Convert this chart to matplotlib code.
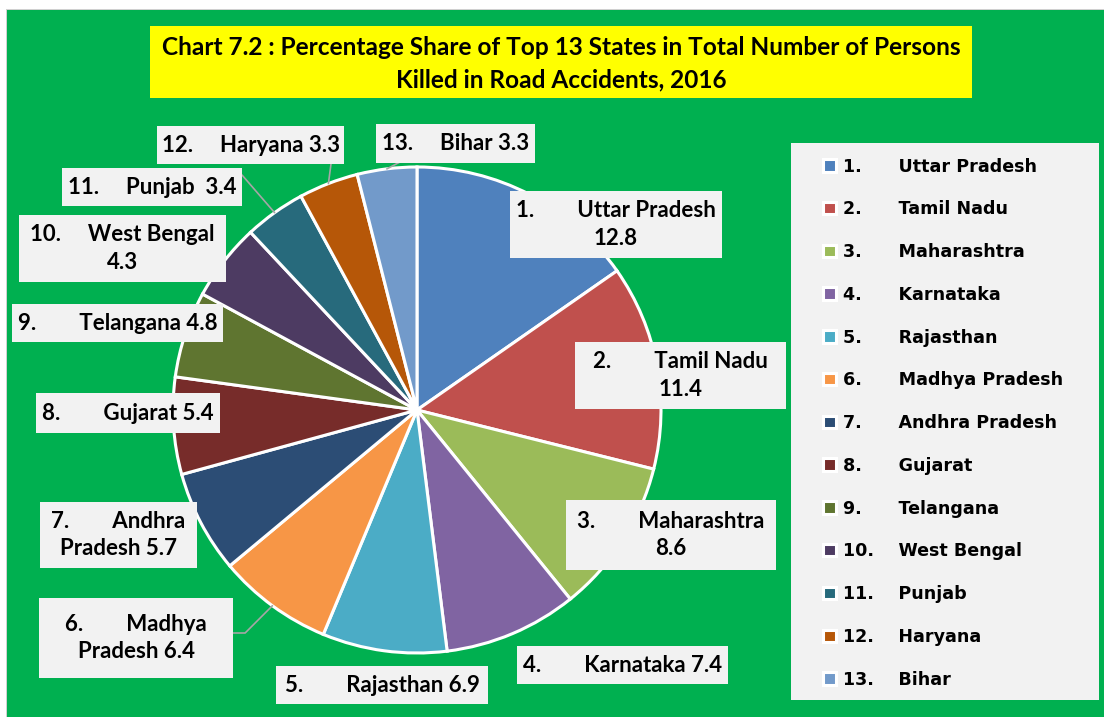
import matplotlib.pyplot as plt
import numpy as np
from matplotlib.patches import Rectangle

states = ["Uttar Pradesh", "Tamil Nadu", "Maharashtra", "Karnataka", "Rajasthan",
          "Madhya Pradesh", "Andhra Pradesh", "Gujarat", "Telangana", "West Bengal",
          "Punjab", "Haryana", "Bihar"]
share = [12.8, 11.4, 8.6, 7.4, 6.9, 6.4, 5.7, 5.4, 4.8, 4.3, 3.4, 3.3, 3.3]
colors = ["#4F81BD", "#C0504D", "#9BBB59", "#8064A2", "#4BACC6", "#F79646", "#2C4D75",
          "#772C2A", "#5F7530", "#4D3B62", "#276A7C", "#B65708", "#729ACA"]

title = ("Chart 7.2 : Percentage Share of Top 13 States in Total Number of Persons\n"
         "Killed in Road Accidents, 2016")

# label layout (pixels): box x0, y0, x1, y1 and how name/value are split
label_boxes = [(510, 191, 722, 258), (575, 342, 786, 409), (566, 500, 776, 570),
               (517, 646, 728, 684), (276, 666, 488, 704), (39, 598, 233, 678),
               (40, 502, 197, 568), (36, 393, 220, 433), (12, 304, 223, 342),
               (19, 215, 226, 282), (62, 168, 242, 206), (157, 126, 344, 164),
               (376, 124, 535, 163)]
label_split = ["value", "value", "value", "", "", "name", "name", "", "", "value", "", "", ""]
# leader lines: start point on the label box (pixels), only where Excel drew one
leaders = {5: (233, 633), 10: (242, 175), 11: (331, 164), 12: (400, 162)}

W, H = 1104, 717
cx, cy, rx, ry = 417, 410, 244, 243

fig = plt.figure(figsize=(W / 100, H / 100), dpi=100)
fig.patch.set_facecolor("white")
fig.patches.append(Rectangle((6 / W, 0), 1, (H - 9) / H, transform=fig.transFigure,
                             facecolor="#D0D0D0", edgecolor="none", zorder=-3))
fig.patches.append(Rectangle((7 / W, 0), 1, (H - 10) / H, transform=fig.transFigure,
                             facecolor="#00B050", edgecolor="none", zorder=-2))

# pie axes spans the whole figure, unit radius mapped to rx/ry pixels
ax = fig.add_axes([0, 0, 1, 1])
wedges, _ = ax.pie(share, colors=colors, startangle=90, counterclock=False,
                   wedgeprops=dict(edgecolor="white", linewidth=2.2))
ax.set_aspect("auto")
ax.set_xlim(-cx / rx, (W - cx) / rx)
ax.set_ylim(-(H - cy) / ry, cy / ry)
ax.axis("off")

# overlay in pixel coordinates for labels
ov = fig.add_axes([0, 0, 1, 1], facecolor="none")
ov.set_xlim(0, W)
ov.set_ylim(H, 0)
ov.axis("off")

lab_font = ["Lato", "DejaVu Sans"]

ov.add_patch(Rectangle((150, 26), 822, 72, facecolor="#FFFF00", edgecolor="none"))
ov.text(561, 63.5, title, ha="center", va="center", fontsize=17.6, fontweight="bold",
        family=lab_font, linespacing=1.5)

for i, (name, val) in enumerate(zip(states, share)):
    num = f"{i + 1}."
    gap = " " * 8 if i < 9 else " " * 5
    if label_split[i] == "value":
        txt = f"{num}{gap}{name}\n{val}"
    elif label_split[i] == "name":
        first, rest = name.split(" ", 1)
        txt = f"{num}{gap}{first}\n{rest} {val}"
    else:
        sep = "  " if name == "Punjab" else " "
        txt = f"{num}{gap}{name}{sep}{val}"
    x0, y0, x1, y1 = label_boxes[i]
    ov.add_patch(Rectangle((x0, y0), x1 - x0, y1 - y0, facecolor="#F2F2F2",
                           edgecolor="none", zorder=3))
    ov.text((x0 + x1) / 2, (y0 + y1) / 2, txt, ha="center", va="center",
            multialignment="center", fontsize=16, fontweight="bold",
            family=lab_font, linespacing=1.4, zorder=4)
    if i in leaders:
        w = wedges[i]
        mid = np.deg2rad((w.theta1 + w.theta2) / 2)
        conn = "angle,angleA=0,angleB=45,rad=0" if i == 5 else "arc3"
        ov.annotate("", xy=(np.cos(mid), np.sin(mid)), xycoords=ax.transData,
                    xytext=leaders[i], textcoords="data",
                    arrowprops=dict(arrowstyle="-", color="#A6A6A6", lw=1.2,
                                    shrinkA=0, shrinkB=0, connectionstyle=conn),
                    zorder=2)

# legend box
ov.add_patch(Rectangle((791, 143), 308, 557, facecolor="#F2F2F2", edgecolor="none", zorder=3))
leg_labels = [f"{i + 1}." + (" " * 6 if i < 9 else " " * 4) + s for i, s in enumerate(states)]
leg = fig.legend(wedges, leg_labels, loc="upper left",
                 bbox_to_anchor=(823 / W, 1 - 157.5 / H), frameon=False,
                 borderpad=0, borderaxespad=0, labelspacing=1.415,
                 handlelength=0.72, handleheight=0.72, handletextpad=0.43,
                 prop=dict(family="DejaVu Sans", weight="bold", size=12.6))
leg.set_zorder(5)

fig.savefig("out.png", dpi=100, facecolor=fig.get_facecolor())
